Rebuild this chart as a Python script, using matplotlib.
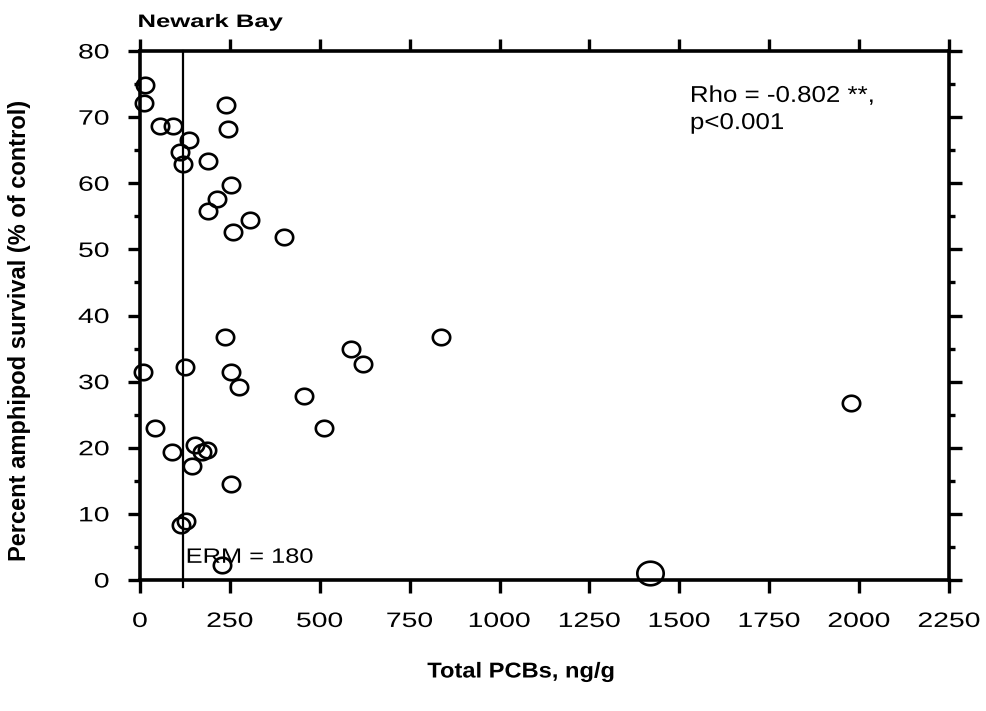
import matplotlib
matplotlib.use("Agg")
import matplotlib.pyplot as plt
import numpy as np
from matplotlib.path import Path
from matplotlib.ticker import MultipleLocator
from matplotlib.patheffects import AbstractPathEffect
from matplotlib.transforms import Affine2D

plt.rcParams['font.family'] = ['Liberation Sans', 'DejaVu Sans']

# Data (Total PCBs ng/g, % amphipod survival)
pcb = [14, 10, 57, 91, 135, 111, 120, 190, 239, 246, 254, 215, 190, 307, 260, 401,
       237, 9, 126, 254, 276, 457, 511, 588, 619, 837, 43, 89, 152, 173, 187, 144,
       254, 128, 114, 229, 1977]
survival = [74.8, 72.2, 68.6, 68.6, 66.5, 64.7, 62.9, 63.3, 71.8, 68.2, 59.7, 57.6, 55.8,
            54.4, 52.6, 51.8, 36.7, 31.5, 32.2, 31.4, 29.2, 27.8, 23.0, 34.9, 32.7, 36.7,
            23.0, 19.4, 20.4, 19.4, 19.6, 17.3, 14.5, 8.9, 8.3, 2.2, 26.7]
big_pcb = [1419]
big_survival = [1.0]

erm_x = 120
x_ticks = [0, 250, 500, 750, 1000, 1250, 1500, 1750, 2000, 2250]
y_ticks = [0, 10, 20, 30, 40, 50, 60, 70, 80]


class Stretch(AbstractPathEffect):
    """Stretch glyphs horizontally (in text-local coordinates) about an anchor."""
    def __init__(self, sx, anchor='left'):
        super().__init__()
        self.sx = sx
        self.anchor = anchor

    def draw_path(self, renderer, gc, tpath, affine, rgbFace=None):
        ext = tpath.get_extents()
        if self.anchor == 'left':
            cx = ext.x0
        elif self.anchor == 'right':
            cx = ext.x1
        else:
            cx = 0.5 * (ext.x0 + ext.x1)
        t = Affine2D().translate(-cx, 0).scale(self.sx, 1).translate(cx, 0) + affine
        renderer.draw_path(gc, tpath, t, rgbFace)


# slightly wide ellipse marker
t = np.linspace(0, 2 * np.pi, 60)
ell = Path(np.column_stack([1.12 * np.cos(t), np.sin(t)]), closed=True)

fig = plt.figure(figsize=(9.86, 7.11), dpi=100)
ax = fig.add_axes([140 / 986, 131 / 711, 809 / 986, 529 / 711])

ax.plot(pcb, survival, linestyle='none', marker=ell, markersize=12.5,
        markerfacecolor='none', markeredgecolor='black', markeredgewidth=1.9,
        clip_on=False, zorder=3)
ax.plot(big_pcb, big_survival, linestyle='none', marker=ell, markersize=19,
        markerfacecolor='none', markeredgecolor='black', markeredgewidth=1.9,
        clip_on=False, zorder=3)

ax.plot([erm_x, erm_x], [-1, 80], color='black', linewidth=1.6, clip_on=False, zorder=2)

ax.set_xlim(0, 2250)
ax.set_ylim(0, 80)
ax.set_xticks(x_ticks)
ax.set_yticks(y_ticks)
ax.set_xticklabels([str(v) for v in x_ticks])
ax.set_yticklabels([str(v) for v in y_ticks])
ax.yaxis.set_minor_locator(MultipleLocator(5))

for s in ax.spines.values():
    s.set_linewidth(2.6)

ax.tick_params(axis='both', which='major', direction='out', length=9, width=2.4,
               labelsize=15, top=True, right=True, labeltop=False, labelright=False)
ax.tick_params(axis='x', which='major', pad=14)
ax.tick_params(axis='y', which='major', pad=13)
ax.tick_params(axis='y', which='minor', direction='out', length=4.5, width=2.4,
               left=True, right=True)

for lbl in ax.get_xticklabels():
    lbl.set_path_effects([Stretch(1.36, 'center')])
for lbl in ax.get_yticklabels():
    lbl.set_path_effects([Stretch(1.36, 'right')])

ax.text(128, 2.6, 'ERM = 180', fontsize=15, ha='left', va='baseline',
        path_effects=[Stretch(1.22, 'left')])
ax.text(1530, 72.3, 'Rho = -0.802 **,', fontsize=16.5, ha='left', va='baseline',
        path_effects=[Stretch(1.13, 'left')])
ax.text(1530, 68.2, 'p<0.001', fontsize=16.5, ha='left', va='baseline',
        path_effects=[Stretch(1.13, 'left')])

fig.text(138 / 986, 1 - 27 / 711, 'Newark Bay', fontsize=13, fontweight='bold',
         ha='left', va='baseline', path_effects=[Stretch(1.42, 'left')])
fig.text(521 / 986, 1 - 672 / 711, 'Total PCBs, ng/g', fontsize=15.5, fontweight='bold',
         ha='center', va='center', path_effects=[Stretch(1.1, 'center')])
fig.text(20 / 986, 1 - 330 / 711, 'Percent amphipod survival (% of control)', fontsize=17,
         fontweight='bold', rotation=90, ha='center', va='center')

fig.savefig('out.png', dpi=100)
